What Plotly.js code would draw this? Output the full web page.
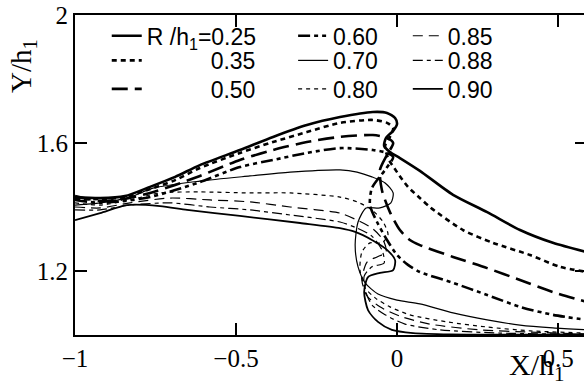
<!DOCTYPE html>
<html>
<head>
<meta charset="utf-8">
<script src="https://cdn.plot.ly/plotly-3.0.1.min.js"></script>
<style>
  html, body { margin: 0; padding: 0; overflow: hidden; background: #fff; width: 584px; height: 388px; }
  #chart { width: 600px; height: 388px; }
</style>
</head>
<body>
<div id="chart"></div>
<script>
// Free-surface profiles Y/h1 against X/h1 for several weir radii R/h1.
const xR025 = [-1.000,-0.922,-0.845,-0.767,-0.689,-0.612,-0.488,-0.385,-0.280,-0.177,-0.075,-0.031,-0.006,0.000,-0.012,-0.034,-0.040,-0.022,0.009,0.071,0.174,0.280,0.382,0.484,0.59];
const yR025 = [1.431,1.428,1.434,1.463,1.494,1.531,1.578,1.619,1.656,1.681,1.697,1.694,1.678,1.659,1.638,1.616,1.591,1.572,1.553,1.513,1.438,1.384,1.328,1.288,1.259];

const xR035 = [-1.000,-0.922,-0.845,-0.767,-0.689,-0.612,-0.488,-0.385,-0.280,-0.177,-0.075,-0.031,-0.012,-0.022,-0.037,-0.028,0.000,0.034,0.071,0.102,0.205,0.298,0.413,0.506,0.59];
const yR035 = [1.425,1.425,1.431,1.456,1.484,1.522,1.569,1.603,1.634,1.663,1.672,1.663,1.647,1.619,1.591,1.553,1.509,1.463,1.428,1.400,1.328,1.288,1.250,1.213,1.197];

const xR050 = [-1.000,-0.922,-0.845,-0.767,-0.689,-0.612,-0.488,-0.385,-0.280,-0.177,-0.075,-0.031,-0.012,-0.031,-0.053,-0.047,-0.022,0.009,0.040,0.071,0.174,0.280,0.382,0.484,0.59];
const yR050 = [1.434,1.419,1.425,1.444,1.469,1.497,1.547,1.578,1.603,1.619,1.625,1.616,1.600,1.563,1.516,1.453,1.384,1.328,1.297,1.281,1.244,1.209,1.172,1.134,1.103];

const xR060 = [-1.000,-0.922,-0.845,-0.767,-0.689,-0.612,-0.488,-0.385,-0.280,-0.177,-0.075,-0.031,-0.012,-0.037,-0.078,-0.084,-0.062,-0.031,0.000,0.034,0.071,0.174,0.280,0.382,0.484,0.59];
const yR060 = [1.422,1.413,1.419,1.431,1.453,1.478,1.525,1.547,1.569,1.584,1.578,1.569,1.556,1.516,1.459,1.406,1.353,1.297,1.250,1.219,1.197,1.163,1.125,1.088,1.063,1.047];

const xR070 = [-1.000,-0.922,-0.829,-0.758,-0.612,-0.457,-0.332,-0.177,-0.124,-0.078,-0.037,-0.012,-0.019,-0.053,-0.096,-0.121,-0.130,-0.121,-0.099,-0.059,0.000,0.071,0.174,0.280,0.382,0.484,0.59];
const yR070 = [1.406,1.413,1.431,1.459,1.481,1.497,1.509,1.516,1.509,1.494,1.475,1.444,1.413,1.397,1.397,1.353,1.281,1.213,1.163,1.128,1.109,1.097,1.069,1.047,1.031,1.022,1.016];

const xR080 = [-1.000,-0.922,-0.829,-0.736,-0.612,-0.457,-0.332,-0.177,-0.124,-0.078,-0.043,-0.028,-0.047,-0.084,-0.109,-0.115,-0.099,-0.068,-0.022,0.040,0.155,0.280,0.413,0.59];
const yR080 = [1.413,1.406,1.422,1.444,1.447,1.444,1.444,1.431,1.416,1.391,1.353,1.313,1.288,1.288,1.259,1.203,1.147,1.116,1.088,1.063,1.041,1.025,1.013,1.006];

const xR085 = [-1.000,-0.922,-0.829,-0.705,-0.581,-0.457,-0.332,-0.177,-0.124,-0.078,-0.043,-0.034,-0.062,-0.093,-0.109,-0.093,-0.053,0.009,0.102,0.258,0.413,0.59];
const yR085 = [1.400,1.397,1.413,1.428,1.422,1.416,1.400,1.381,1.359,1.334,1.297,1.259,1.244,1.228,1.172,1.122,1.088,1.059,1.034,1.016,1.009,1.003];

const xR088 = [-1.000,-0.922,-0.829,-0.705,-0.581,-0.457,-0.332,-0.177,-0.124,-0.078,-0.047,-0.040,-0.078,-0.102,-0.099,-0.078,-0.037,0.025,0.134,0.320,0.59];
const yR088 = [1.391,1.391,1.406,1.413,1.400,1.391,1.375,1.353,1.334,1.309,1.266,1.225,1.213,1.184,1.141,1.094,1.063,1.034,1.016,1.006,1.002];

const xR090 = [-1.000,-0.922,-0.839,-0.736,-0.652,-0.488,-0.301,-0.177,-0.130,-0.078,-0.031,-0.006,-0.012,-0.053,-0.090,-0.102,-0.090,-0.059,-0.016,0.050,0.165,0.59];
const yR090 = [1.359,1.381,1.406,1.403,1.391,1.372,1.350,1.334,1.322,1.297,1.266,1.234,1.203,1.194,1.181,1.134,1.078,1.041,1.016,1.006,1.002,1.002];

// Axis ticks and labels
const xMajor = [-1, -0.5, 0, 0.5];
const xMajorText = ['\u22121', '\u22120.5', '0', '0.5'];
const yMajor = [1.2, 1.6, 2];
const yMajorText = ['1.2', '1.6', '2'];

// Legend labels (non-breaking spaces push the bare numbers of column one to the right)
const pad = '\u00a0'.repeat(10);
const labels = ['R /h<sub>1</sub>=0.25', pad + '0.35', pad + '0.50', '0.60', '0.70', '0.80', '0.85', '0.88', '0.90'];

const series = [
  { x: xR025, y: yR025, w: 2.6, dash: 'solid' },
  { x: xR035, y: yR035, w: 2.6, dash: '5px,4px' },
  { x: xR050, y: yR050, w: 2.6, dash: '16px,7px' },
  { x: xR060, y: yR060, w: 2.6, dash: '12px,4px,4px,4px,4px,4px' },
  { x: xR070, y: yR070, w: 1.2, dash: 'solid' },
  { x: xR080, y: yR080, w: 1.2, dash: '4px,4px' },
  { x: xR085, y: yR085, w: 1.2, dash: '10px,6px' },
  { x: xR088, y: yR088, w: 1.2, dash: '10px,4px,4px,4px' },
  { x: xR090, y: yR090, w: 1.8, dash: 'solid' }
];

// one single-entry legend per series, laid out as a 3 x 3 key
const legendIds = ['legend', 'legend2', 'legend3', 'legend4', 'legend5', 'legend6', 'legend7', 'legend8', 'legend9'];
const colX = [0.062, 0.426, 0.650];
const rowY = [0.935, 0.858, 0.769];

const traces = series.map((s, i) => ({
  type: 'scatter', mode: 'lines',
  x: s.x, y: s.y, name: labels[i], legend: legendIds[i],
  line: { color: '#000', width: s.w, dash: s.dash, shape: 'spline', smoothing: 0.7 }
}));

const serif = 'Liberation Serif, Times New Roman, serif';
const sans = 'Liberation Sans, Arial, sans-serif';

const layout = {
  width: 600, height: 388,
  margin: { l: 75, r: 13, t: 15, b: 53 },
  // tick labels take the page-wide serif font
  font: { family: serif, size: 25, color: '#000' },
  showlegend: true,
  xaxis: {
    range: [-1, 0.59],
    showline: true, linecolor: '#000', linewidth: 2, mirror: 'ticks',
    ticks: 'inside', ticklen: 12, tickwidth: 1.5, tickcolor: '#000',
    tickvals: xMajor, ticktext: xMajorText,
    gridcolor: 'rgba(0,0,0,0)', zerolinecolor: 'rgba(0,0,0,0)'
  },
  yaxis: {
    range: [1, 2],
    showline: true, linecolor: '#000', linewidth: 2, mirror: 'ticks',
    ticks: 'inside', ticklen: 12, tickwidth: 1.5, tickcolor: '#000',
    tickvals: yMajor, ticktext: yMajorText,
    gridcolor: 'rgba(0,0,0,0)', zerolinecolor: 'rgba(0,0,0,0)'
  },
  annotations: [
    { xref: 'paper', yref: 'paper', x: -0.102, y: 0.84, xanchor: 'center', yanchor: 'middle',
      text: 'Y/h<sub>1</sub>', textangle: -90,
      showarrow: false, font: { family: serif, size: 29, color: '#000' } },
    { xref: 'paper', yref: 'paper', x: 0.902, y: -0.10, xanchor: 'center', yanchor: 'middle',
      text: 'X/h<sub>1</sub>',
      showarrow: false, font: { family: serif, size: 30, color: '#000' } }
  ]
};

legendIds.forEach((id, i) => {
  layout[id] = {
    bgcolor: 'rgba(0,0,0,0)', borderwidth: 0, orientation: 'v',
    x: colX[Math.floor(i / 3)], y: rowY[i % 3], xanchor: 'left', yanchor: 'middle',
    font: { family: sans, size: 23, color: '#000' }
  };
});

Plotly.newPlot('chart', traces, layout, { displayModeBar: false }).then(() => {
  document.body.setAttribute('data-drawn', 'yes');
});
</script>
</body>
</html>
